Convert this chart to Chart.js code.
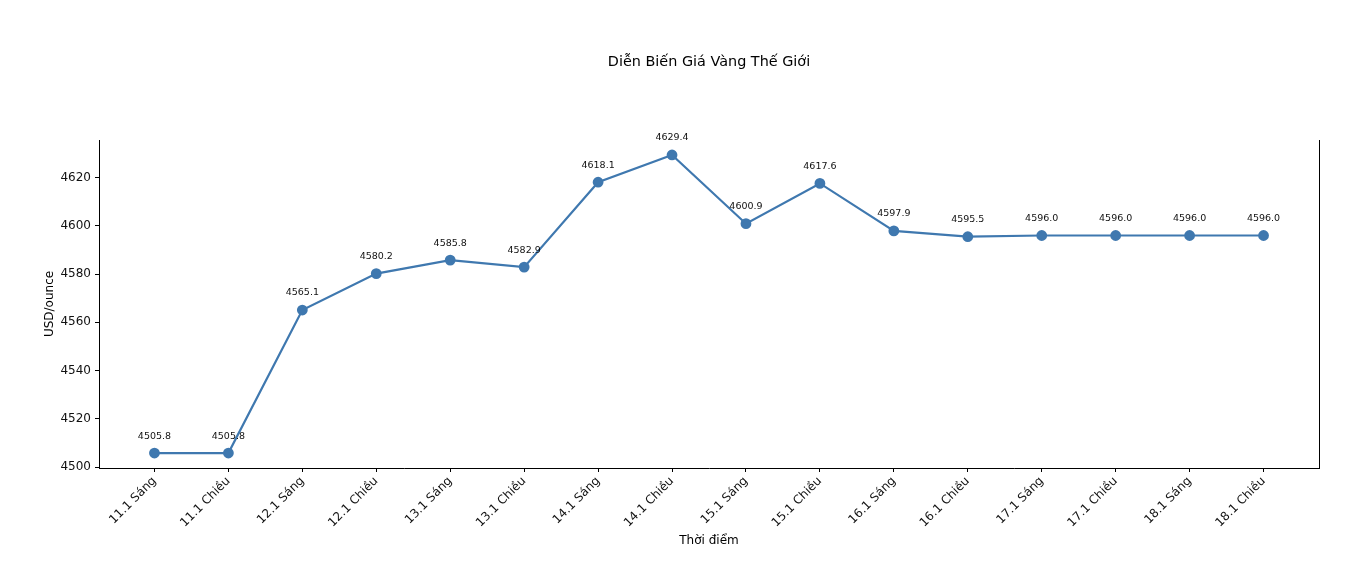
<!DOCTYPE html>
<html>
<head>
<meta charset="utf-8">
<script src="https://cdn.jsdelivr.net/npm/chart.js@4/dist/chart.umd.min.js"></script>
<style>
  html, body { margin: 0; padding: 0; background: #fff; }
  #wrap { width: 1350px; height: 568px; }
</style>
</head>
<body>
<div id="wrap"><canvas id="goldChart" width="1350" height="568"></canvas></div>
<script>
const timeLabels = ['11.1 Sáng', '11.1 Chiều', '12.1 Sáng', '12.1 Chiều', '13.1 Sáng', '13.1 Chiều', '14.1 Sáng', '14.1 Chiều',
  '15.1 Sáng', '15.1 Chiều', '16.1 Sáng', '16.1 Chiều', '17.1 Sáng', '17.1 Chiều', '18.1 Sáng', '18.1 Chiều'];
const goldPrices = [4505.8, 4505.8, 4565.1, 4580.2, 4585.8, 4582.9, 4618.1, 4629.4, 4600.9, 4617.6, 4597.9, 4595.5, 4596.0, 4596.0, 4596.0, 4596.0];
const yTickValues = [4500, 4520, 4540, 4560, 4580, 4600, 4620];
const chartTitle = 'Diễn Biến Giá Vàng Thế Giới';

const lineColor = '#3f78af';
const fontFamily = "'DejaVu Sans', sans-serif";

// title over the plot area, value labels above points, right spine
const extras = {
  id: 'extras',
  afterDatasetsDraw(chart) {
    const ctx = chart.ctx;
    const a = chart.chartArea;
    const meta = chart.getDatasetMeta(0);
    ctx.save();
    ctx.fillStyle = '#000';
    ctx.textAlign = 'center';
    ctx.textBaseline = 'middle';
    ctx.font = '14.4px ' + fontFamily;
    ctx.fillText(chartTitle, (a.left + a.right) / 2, 62);

    ctx.font = '9.5px ' + fontFamily;
    ctx.fillStyle = '#111';
    meta.data.forEach((pt, i) => {
      ctx.fillText(goldPrices[i].toFixed(1), pt.x, pt.y - 17);
    });

    ctx.strokeStyle = '#000';
    ctx.lineWidth = 1;
    ctx.beginPath();
    ctx.moveTo(a.right + 0.5, a.top);
    ctx.lineTo(a.right + 0.5, a.bottom);
    ctx.stroke();
    ctx.restore();
  }
};

new Chart('goldChart', {
  type: 'line',
  data: {
    datasets: [{
      data: goldPrices.map((v, i) => ({ x: i, y: v })),
      borderColor: lineColor,
      backgroundColor: lineColor,
      borderWidth: 2.2,
      pointRadius: 4.3,
      pointHoverRadius: 4.3,
      tension: 0
    }]
  },
  options: {
    responsive: false,
    animation: false,
    layout: { padding: { top: 140, right: 31, bottom: 0, left: 0 } },
    plugins: {
      legend: { display: false },
      tooltip: { enabled: false },
      title: { display: false }
    },
    scales: {
      x: {
        type: 'linear',
        min: -0.75,
        max: 15.75,
        afterBuildTicks(scale) { scale.ticks = timeLabels.map((_, i) => ({ value: i })); },
        afterFit(scale) { scale.height = 100; },
        ticks: {
          color: '#111',
          font: { family: fontFamily, size: 12 },
          minRotation: 45,
          maxRotation: 45,
          padding: 2,
          callback: (v) => timeLabels[v]
        },
        grid: { drawOnChartArea: false, drawTicks: true, tickLength: 4, color: '#000' },
        border: { display: true, color: '#000', width: 1 },
        title: {
          display: true,
          text: 'Thời điểm',
          color: '#000',
          font: { family: fontFamily, size: 12 },
          padding: { top: 20, bottom: 20 }
        }
      },
      y: {
        min: 4499.6,
        max: 4635.6,
        afterBuildTicks(scale) { scale.ticks = yTickValues.map(v => ({ value: v })); },
        afterFit(scale) { scale.width = 99; },
        ticks: {
          color: '#111',
          font: { family: fontFamily, size: 12 },
          padding: 4,
          callback: (v) => String(v)
        },
        grid: { drawOnChartArea: false, drawTicks: true, tickLength: 4, color: '#000' },
        border: { display: true, color: '#000', width: 1 },
        title: {
          display: true,
          text: 'USD/ounce',
          color: '#000',
          font: { family: fontFamily, size: 12 },
          padding: { top: 43, bottom: 43 }
        }
      }
    }
  },
  plugins: [extras]
});
</script>
</body>
</html>
